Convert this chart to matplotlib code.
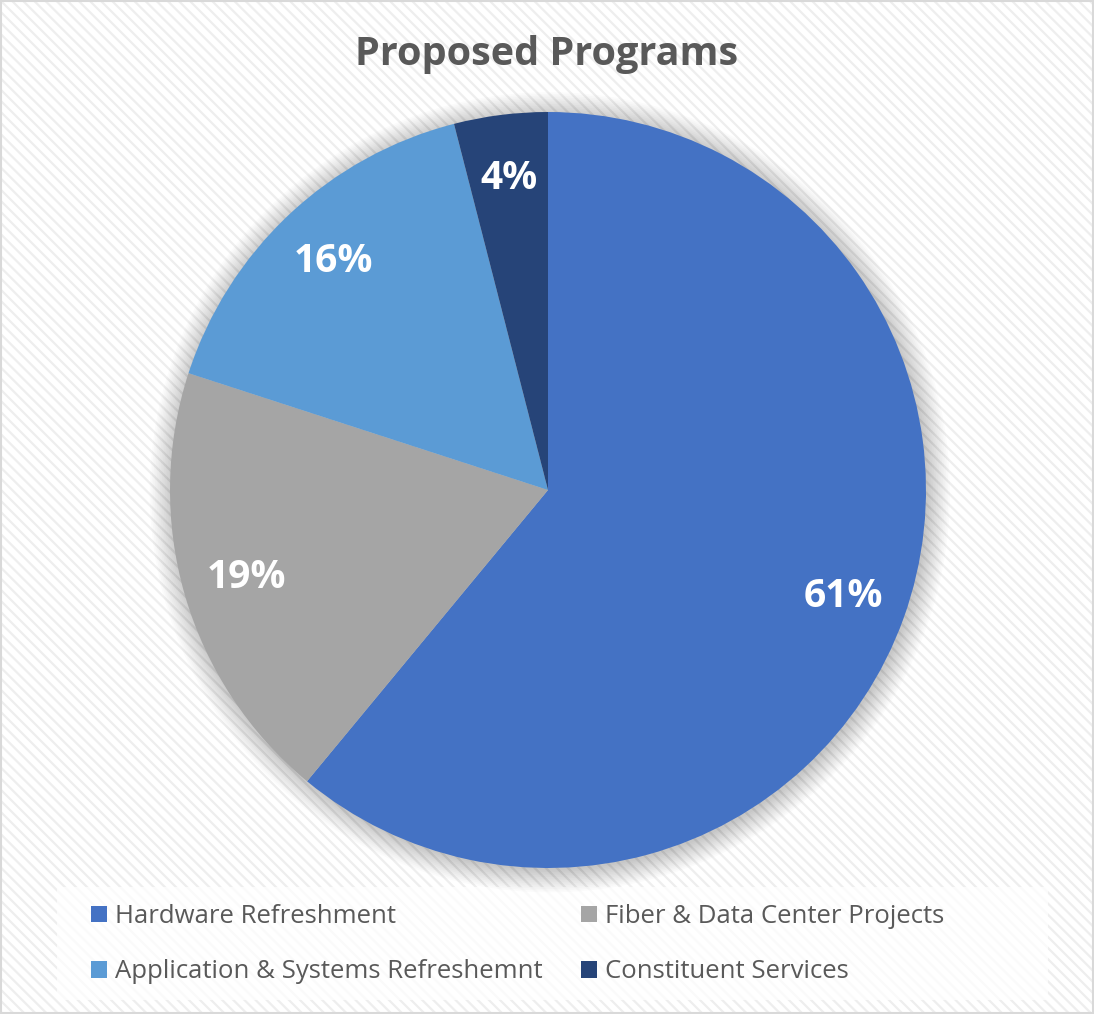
import matplotlib.pyplot as plt
from matplotlib.patches import Rectangle, Circle

# data
programs = ["Hardware Refreshment", "Fiber & Data Center Projects",
            "Application & Systems Refreshemnt", "Constituent Services"]
shares = [61, 19, 16, 4]
colors = ["#4472C4", "#A5A5A5", "#5B9BD5", "#264478"]
title = "Proposed Programs"

W, H = 1094, 1014
plt.rcParams['font.family'] = ['Open Sans', 'DejaVu Sans']
plt.rcParams['hatch.linewidth'] = 1.6
plt.rcParams['hatch.color'] = "#eeeeee"

fig = plt.figure(figsize=(W / 100, H / 100), dpi=100)
fig.patch.set_facecolor("white")

# striped background + thin border
bg = Rectangle((0, 0), 1, 1, transform=fig.transFigure, facecolor="white",
               edgecolor="#eeeeee", hatch="\\\\\\", linewidth=0, zorder=-10)
fig.patches.append(bg)
border = Rectangle((0.001, 0.001), 0.998, 0.998, transform=fig.transFigure,
                   facecolor="none", edgecolor="#d9d9d9", linewidth=1.5, zorder=-9)
fig.patches.append(border)

fig.text(0.5, 1 - 54 / H, title, ha="center", va="center", fontsize=28.5,
         fontweight="bold", color="#595959")

# pie axes: centre (548, 490), radius 378 px
cx, cy, r = 548, 490, 378
ax = fig.add_axes([(cx - r) / W, (H - cy - r) / H, 2 * r / W, 2 * r / H])
ax.set_facecolor("none")

# soft shadow
for k in range(14):
    ax.add_patch(Circle((0.005, -0.006), 1 + k * 0.0045, facecolor="#000000",
                        alpha=0.014, edgecolor="none", zorder=0, clip_on=False))

wedges, _, autotexts = ax.pie(shares, colors=colors, startangle=90, counterclock=False,
                              autopct="%d%%", pctdistance=0.83, radius=1,
                              wedgeprops=dict(linewidth=0, zorder=2),
                              textprops=dict(color="white", fontsize=28, fontweight="bold"))
for w in wedges:
    w.set_zorder(2)
for t in autotexts:
    t.set_zorder(3)
ax.set_xlim(-1, 1)
ax.set_ylim(-1, 1)
ax.set_aspect("equal")
ax.axis("off")

# legend box
lb = Rectangle((57 / W, 1 - 1000 / H), (1048 - 57) / W, (1000 - 887) / H,
               transform=fig.transFigure, facecolor="white", alpha=0.75,
               edgecolor="none", zorder=-5)
fig.patches.append(lb)

order = [0, 2, 1, 3]
leg = fig.legend([wedges[i] for i in order], [programs[i] for i in order],
                 ncol=2, loc="upper left", bbox_to_anchor=(68 / W, 1 - 881 / H),
                 frameon=False, fontsize=18.5, handlelength=0.62, handleheight=0.62,
                 handletextpad=0.3, columnspacing=1.5, labelspacing=1.18)
for t in leg.get_texts():
    t.set_color("#595959")

fig.savefig("out.png", dpi=100, facecolor="white")
